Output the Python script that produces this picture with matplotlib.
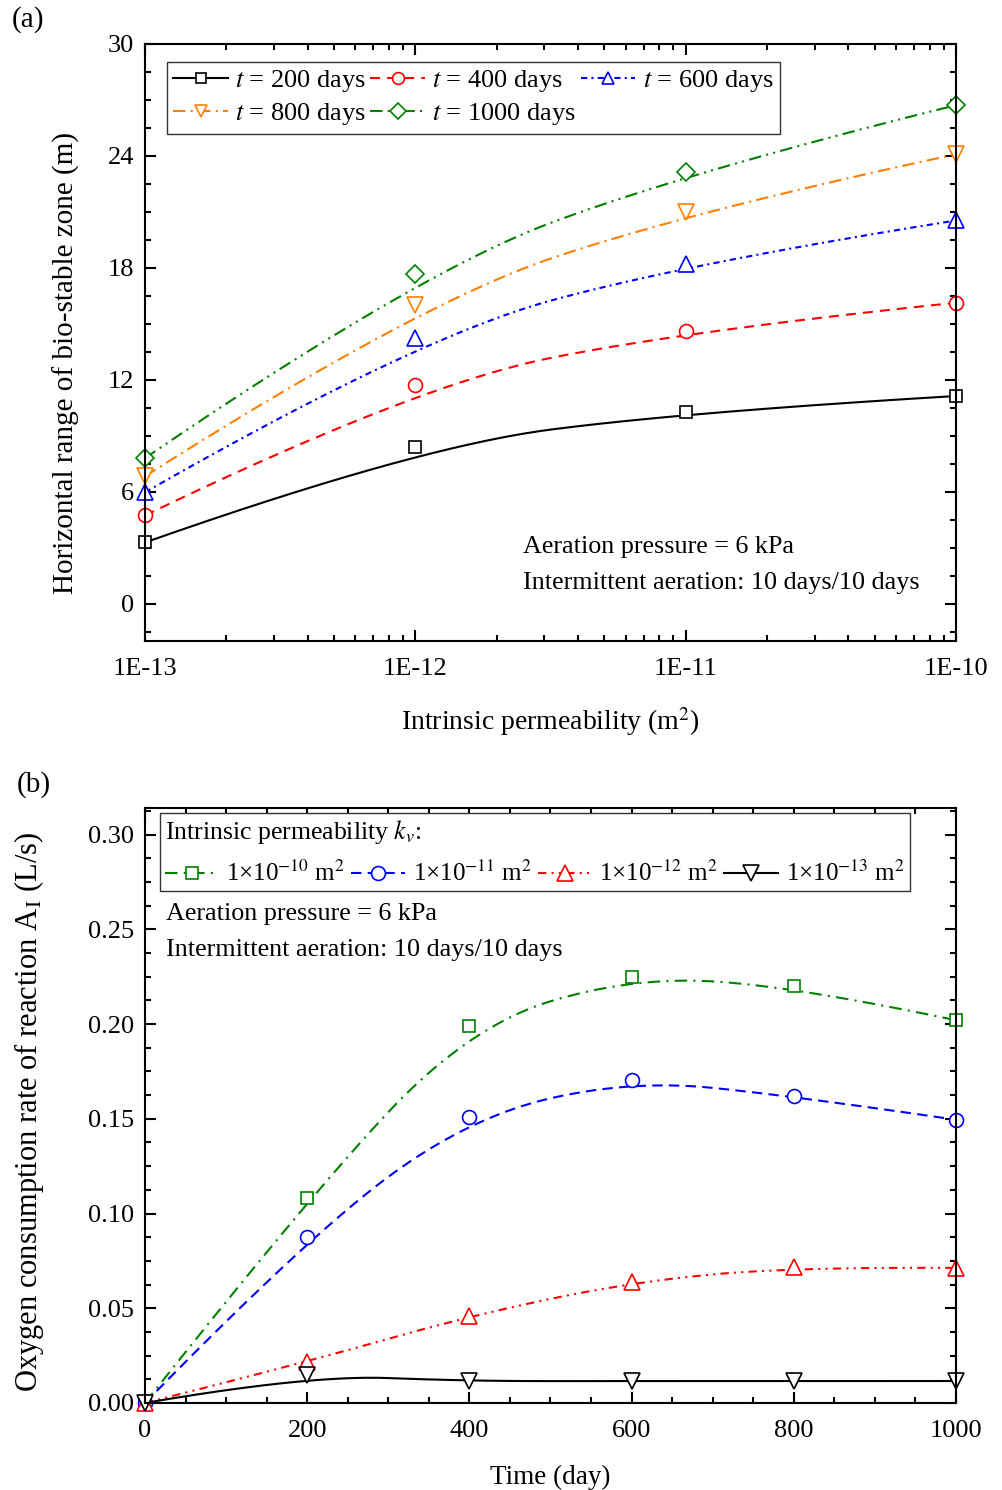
import numpy as np
import matplotlib
matplotlib.use("Agg")
import matplotlib.pyplot as plt
from matplotlib.ticker import MultipleLocator, FixedLocator, FixedFormatter, LogLocator, NullFormatter

plt.rcParams['font.family'] = ['Liberation Serif', 'DejaVu Serif']
plt.rcParams['mathtext.fontset'] = 'stix'
plt.rcParams['font.size'] = 19

# ---- data, panel (a) ----
perm = [1e-13, 1e-12, 1e-11, 1e-10]
range_200 = [3.28, 8.39, 10.27, 11.13]
range_400 = [4.73, 11.72, 14.62, 16.13]
range_600 = [5.97, 14.25, 18.23, 20.54]
range_800 = [6.83, 16.02, 20.97, 24.09]
range_1000 = [7.80, 17.69, 23.12, 26.72]
perm_ticks = ['1E-13', '1E-12', '1E-11', '1E-10']

# ---- data, panel (b) ----
days = [0, 200, 400, 600, 800, 1000]
rate_1e10 = [0.0, 0.108, 0.199, 0.225, 0.220, 0.202]
rate_1e11 = [0.0, 0.0877, 0.151, 0.1706, 0.162, 0.1495]
rate_1e12 = [0.0, 0.0217, 0.046, 0.0639, 0.0718, 0.0713]
rate_1e13 = [0.0, 0.0148, 0.0115, 0.0116, 0.0116, 0.0116]


def bspline(xs, ys, k=2, n=300):
    # clamped B-spline with the data points as control points (Origin style)
    P = np.column_stack([xs, ys]).astype(float)
    m = len(P)
    t = np.concatenate([[0.0] * k, np.linspace(0, 1, m - k + 1), [1.0] * k])
    u = np.linspace(0, 1, n)
    N = np.zeros((n, len(t) - 1))
    for i in range(len(t) - 1):
        N[:, i] = ((u >= t[i]) & (u < t[i + 1])).astype(float)
    N[-1, :] = 0
    N[-1, m - 1] = 1
    for p in range(1, k + 1):
        Nn = np.zeros((n, len(t) - 1 - p))
        for i in range(len(t) - 1 - p):
            d1 = t[i + p] - t[i]
            d2 = t[i + p + 1] - t[i + 1]
            a = (u - t[i]) / d1 * N[:, i] if d1 > 0 else 0
            b = (t[i + p + 1] - u) / d2 * N[:, i + 1] if d2 > 0 else 0
            Nn[:, i] = a + b
        N = Nn
    C = N @ P
    return C[:, 0], C[:, 1]


def style_axes(ax):
    for s in ax.spines.values():
        s.set_linewidth(1.5)
    ax.tick_params(which='both', direction='in', top=True, right=True, width=1.5, labelsize=19)
    ax.tick_params(which='major', length=8, pad=8)
    ax.tick_params(which='minor', length=4.5)


fig = plt.figure(figsize=(10.02, 14.9), dpi=100)
ax1 = fig.add_axes([0.1447, 0.5698, 0.8094, 0.4007])
ax2 = fig.add_axes([0.1447, 0.0584, 0.8094, 0.3993])

# ---------------- panel (a) ----------------
series_a = [
    (range_200, 'black', '-', 's', 9, '$t$ = 200 days'),
    (range_400, 'red', (0, (4.8, 3.4)), 'o', 10, '$t$ = 400 days'),
    (range_600, 'blue', (0, (3, 2, 1, 2)), '^', 11, '$t$ = 600 days'),
    (range_800, '#ff8000', (0, (6, 2.5, 1, 2.5)), 'v', 11, '$t$ = 800 days'),
    (range_1000, 'green', (0, (6, 2.5, 1, 2.5, 1, 2.5)), 'D', 9, '$t$ = 1000 days'),
]
handles_a = []
lx = np.log10(perm)
for ys, c, ls, mk, ms, lab in series_a:
    sx, sy = bspline(lx, ys, k=2)
    ax1.plot(10 ** sx, sy, color=c, ls=ls, lw=1.5)
    ax1.plot(perm, ys, ls='none', marker=mk, ms=ms, mfc='white', mec=c, mew=1.2, clip_on=False)
    h, = ax1.plot([], [], color=c, ls=ls, lw=1.5, marker=mk, ms=ms * 0.85, mfc='white', mec=c, mew=1.2)
    h.set_label(lab)
    handles_a.append(h)

ax1.set_xscale('log')
ax1.set_xlim(1e-13, 1e-10)
ax1.set_ylim(-2, 30)
ax1.xaxis.set_major_locator(FixedLocator(perm))
ax1.xaxis.set_major_formatter(FixedFormatter(perm_ticks))
ax1.xaxis.set_minor_locator(LogLocator(base=10, subs=np.arange(2, 10)))
ax1.xaxis.set_minor_formatter(NullFormatter())
ax1.yaxis.set_major_locator(MultipleLocator(6))
ax1.yaxis.set_minor_locator(MultipleLocator(1.5))
style_axes(ax1)
ax1.tick_params(axis='x', pad=12)
ax1.set_xlabel('Intrinsic permeability (m$^2$)', fontsize=20, labelpad=18)
ax1.set_ylabel('Horizontal range of bio-stable zone (m)', fontsize=21)
ax1.yaxis.set_label_coords(-0.08, 0.466)

order = [0, 3, 1, 4, 2]
leg1 = ax1.legend([handles_a[i] for i in order], [handles_a[i].get_label() for i in order],
                  ncol=3, loc='upper left', bbox_to_anchor=(0.027, 0.97), borderaxespad=0,
                  handlelength=2.05, handletextpad=0.3, columnspacing=0.15, labelspacing=0.25,
                  borderpad=0.25, fancybox=False, framealpha=1, edgecolor='#333333', fontsize=19)
leg1.get_frame().set_linewidth(1.0)

ax1.text(0.466, 0.1575, 'Aeration pressure = 6 kPa', transform=ax1.transAxes, va='center', fontsize=18.8)
ax1.text(0.466, 0.097, 'Intermittent aeration: 10 days/10 days', transform=ax1.transAxes, va='center', fontsize=18.8)

fig.text(12 / 1002, 1 - 20 / 1490, '(a)', va='center', ha='left', fontsize=21)

# ---------------- panel (b) ----------------
series_b = [
    (rate_1e10, 'green', (0, (6, 3, 1, 3)), 's', 9, '1×10$^{-10}$ m$^2$'),
    (rate_1e11, 'blue', (0, (5, 3)), 'o', 10, '1×10$^{-11}$ m$^2$'),
    (rate_1e12, 'red', (0, (4, 2.5, 1, 2.5, 1, 2.5)), '^', 11, '1×10$^{-12}$ m$^2$'),
    (rate_1e13, 'black', '-', 'v', 11, '1×10$^{-13}$ m$^2$'),
]
handles_b = []
for ys, c, ls, mk, ms, lab in series_b:
    sx, sy = bspline(days, ys, k=2)
    ax2.plot(sx, sy, color=c, ls=ls, lw=1.5)
    ax2.plot(days, ys, ls='none', marker=mk, ms=ms, mfc='white', mec=c, mew=1.2, clip_on=False)
    h, = ax2.plot([], [], color=c, ls=ls, lw=1.5, marker=mk, ms=ms, mfc='white', mec=c, mew=1.2)
    h.set_label(lab)
    handles_b.append(h)

ax2.set_xlim(0, 1000)
ax2.set_ylim(0, 0.314)
ax2.xaxis.set_major_locator(MultipleLocator(200))
ax2.xaxis.set_minor_locator(MultipleLocator(50))
ax2.yaxis.set_major_locator(MultipleLocator(0.05))
ax2.yaxis.set_minor_locator(MultipleLocator(0.0125))
ax2.yaxis.set_major_formatter(plt.FormatStrFormatter('%.2f'))
style_axes(ax2)
ax2.tick_params(axis='x', pad=12)
ax2.set_xlabel('Time (day)', fontsize=19.5, labelpad=17)
ax2.set_ylabel('Oxygen consumption rate of reaction A$_\\mathrm{I}$ (L/s)', fontsize=22)
ax2.yaxis.set_label_coords(-0.122, 0.489)

leg2 = ax2.legend(handles=handles_b, ncol=4, loc='upper left', bbox_to_anchor=(0.0185, 0.992),
                  borderaxespad=0, title='Intrinsic permeability $k_v$:', title_fontsize=18.5,
                  alignment='left', handlelength=2.15, handletextpad=0.3, columnspacing=0.25,
                  borderpad=0.2, fancybox=False, framealpha=1, edgecolor='#333333', fontsize=18)
leg2.get_frame().set_linewidth(1.0)
leg2._legend_box.sep = 11

ax2.text(0.0259, 0.822, 'Aeration pressure = 6 kPa', transform=ax2.transAxes, va='center', fontsize=18.8)
ax2.text(0.0259, 0.761, 'Intermittent aeration: 10 days/10 days', transform=ax2.transAxes, va='center', fontsize=18.8)

fig.text(17 / 1002, 1 - 785 / 1490, '(b)', va='center', ha='left', fontsize=21)

fig.savefig('out.png', dpi=100)
